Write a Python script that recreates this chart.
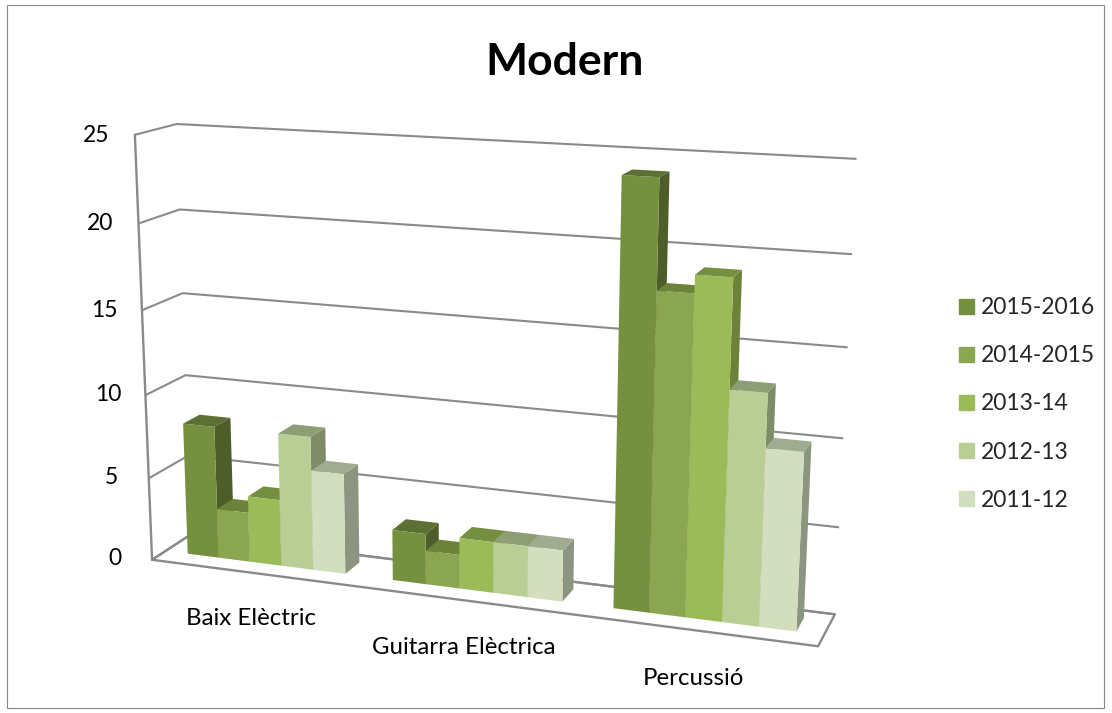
import numpy as np, matplotlib
matplotlib.use('Agg')
import matplotlib.pyplot as plt, seaborn as sns
from matplotlib.patches import Patch, Rectangle
from matplotlib.colors import to_rgba

categories = ['Baix Elèctric', 'Guitarra Elèctrica', 'Percussió']
seasons = ['2015-2016', '2014-2015', '2013-14', '2012-13', '2011-12']
v2015_16 = [8, 3, 24]
v2014_15 = [3, 2, 18]
v2013_14 = [4, 3, 19]
v2012_13 = [8, 3, 13]
v2011_12 = [6, 3, 10]
series = [v2015_16, v2014_15, v2013_14, v2012_13, v2011_12]
z_ticks = [0, 5, 10, 15, 20, 25]
front = sns.color_palette(['#75903F', '#8BA650', '#9BBB59', '#B9CE95', '#D2DEBD'])
top = sns.color_palette(['#5C7033', '#6B8238', '#748F3F', '#8E9E74', '#A0AC90'])
side = sns.color_palette(['#4D5E2A', '#5F7332', '#6B8238', '#7E8D68', '#8B9580'])

sns.set_theme(style='white')
plt.rcParams['font.family'] = ['Lato', 'DejaVu Sans']
W, H = 1112, 713
FS = 16.5
fig = plt.figure(figsize=(W/100, H/100), dpi=100)
ax = fig.add_subplot(projection='3d', computed_zorder=False)
ax.set_xlim(0, 3, view_margin=0); ax.set_ylim(0, 1, view_margin=0); ax.set_zlim(0, 25, view_margin=0)
ax.view_init(14.3787, -70.3047, -0.1059)
ax.set_proj_type('persp', focal_length=float(np.exp(-0.7796)))
ax.set_box_aspect((1.571, 0.1963, 1))
Ln, Bn, Wn = 58.19, -82.67, 824.49
ax.set_position([Ln/W, Bn/H, Wn/W, Wn/H])

ax.patch.set_alpha(0)
for a in (ax.xaxis, ax.yaxis, ax.zaxis):
    a.pane.set_visible(False); a.line.set_color((0, 0, 0, 0))
    a._axinfo['tick']['inward_factor'] = 0; a._axinfo['tick']['outward_factor'] = 0
ax.xaxis._axinfo['grid']['color'] = (0, 0, 0, 0); ax.yaxis._axinfo['grid']['color'] = (0, 0, 0, 0)
ax.zaxis._axinfo['grid'].update(color='#8A8A8A', linewidth=1.5, linestyle='-')
ax.set_xticks([.5, 1.5, 2.5], categories); ax.set_yticks([]); ax.set_zticks(z_ticks)
ax.zaxis.set_ticks_position('lower')
ax.tick_params(axis='x', labelsize=17.3, pad=17, colors='black')
ax.tick_params(axis='z', labelsize=FS, pad=10, colors='black')
for tick in ax.zaxis.get_major_ticks():
    tick.label1.set_va('center_baseline')
lk = dict(color='#8A8A8A', lw=1.7, zorder=1)
ax.plot([0, 3, 3, 0, 0], [0, 0, 1, 1, 0], [0, 0, 0, 0, 0], **lk)
ax.plot([0, 0], [0, 0], [0, 25], **lk)

clear = (0, 0, 0, 0)
bw = .155; margin = .112; y0 = .34; yd = .42
z = 5
for c in range(3):
    for k, vals in enumerate(series):
        cols = [clear, to_rgba(top[k]), to_rgba(front[k]), clear, clear, to_rgba(side[k])]
        ax.bar3d(c+margin+k*bw, y0, 0, bw, yd, vals[c], color=cols, shade=False, zorder=z, linewidth=0)
        z += 1

fig.text(565/W, 1-62/H, 'Modern', ha='center', va='center', fontsize=32, fontweight='bold', color='black')
fig.legend(handles=[Patch(color=c, label=l) for c, l in zip(front, seasons)], loc='center left',
           bbox_to_anchor=(959/W, 1-404/H), frameon=False, fontsize=FS, labelspacing=1.18,
           handlelength=.65, handleheight=.65, handletextpad=.3, borderpad=0, borderaxespad=0)
fig.add_artist(Rectangle((7/W, 1-708/H), 1097/W, 703/H, transform=fig.transFigure, fill=False, ec='#868686', lw=.8))
fig.savefig('out.png', dpi=100)
